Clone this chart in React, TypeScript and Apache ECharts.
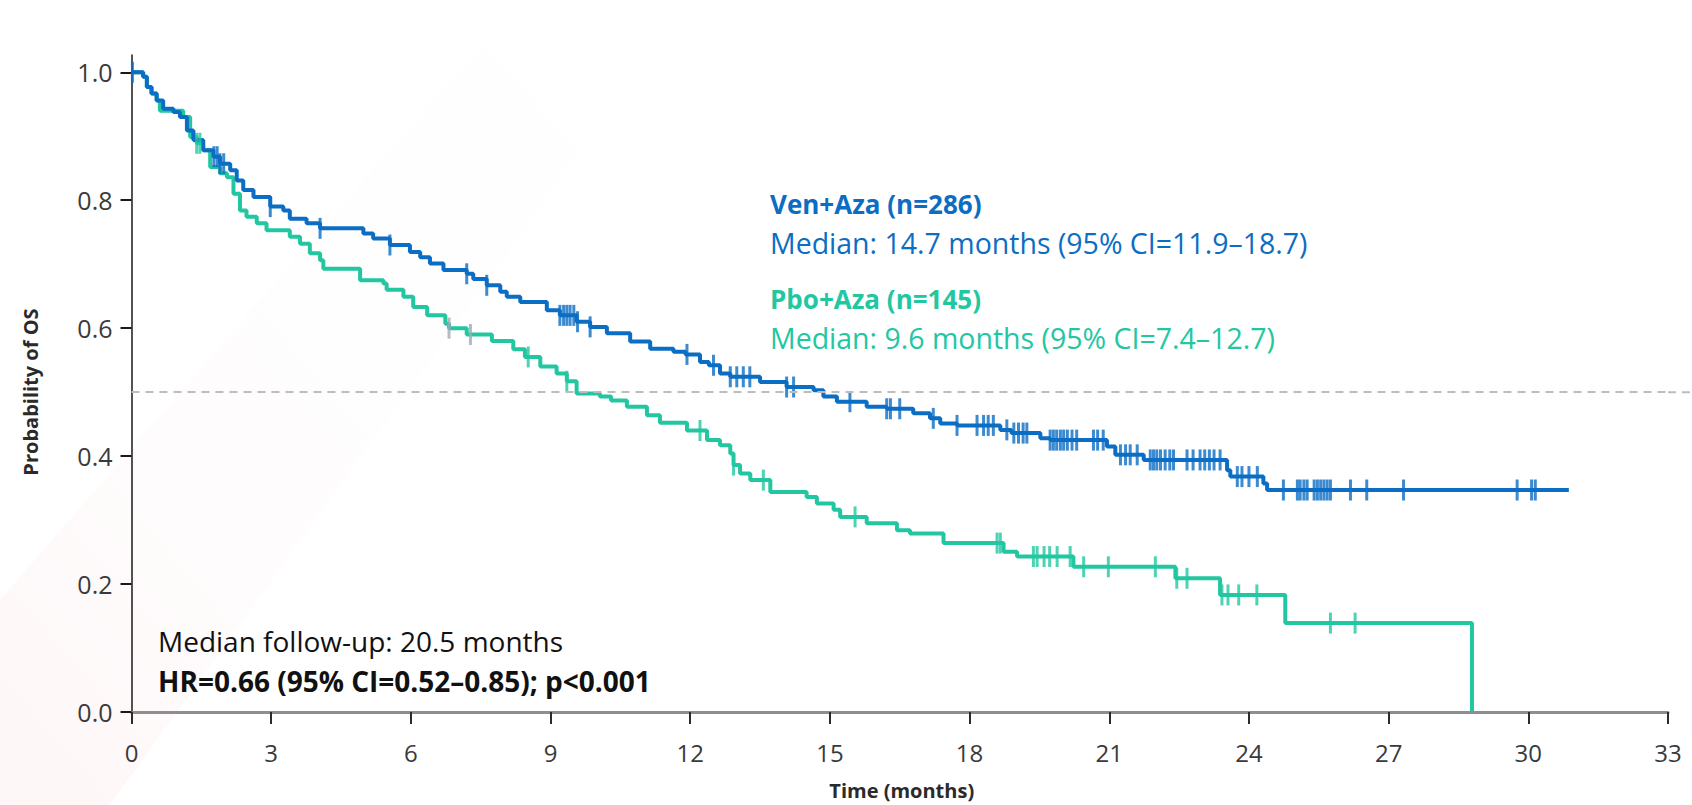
import React, { useEffect, useRef } from "react";
import * as echarts from "echarts";

// ---- Data ----
const xTicks = [0, 3, 6, 9, 12, 15, 18, 21, 24, 27, 30, 33];
const yTicks = [0, 0.2, 0.4, 0.6, 0.8, 1.0];
const medianLine = 0.5;

// Kaplan–Meier steps: [time (months), survival probability]
const venAzaSteps: [number, number][] = [
  [0, 1.0], [0.25, 0.993], [0.33, 0.977], [0.43, 0.967], [0.54, 0.956], [0.68, 0.943],
  [0.9, 0.938], [1.04, 0.93], [1.19, 0.909], [1.33, 0.894], [1.54, 0.878], [1.76, 0.868],
  [1.9, 0.857], [2.12, 0.847], [2.26, 0.831], [2.4, 0.816], [2.62, 0.805], [2.98, 0.79],
  [3.26, 0.784], [3.4, 0.771], [3.76, 0.764], [4.05, 0.756], [4.98, 0.748], [5.19, 0.74],
  [5.55, 0.73], [5.98, 0.719], [6.2, 0.711], [6.41, 0.701], [6.7, 0.691], [7.2, 0.685],
  [7.34, 0.677], [7.63, 0.667], [7.92, 0.657], [8.06, 0.649], [8.35, 0.641], [8.92, 0.628],
  [9.2, 0.62], [9.56, 0.61], [9.85, 0.602], [10.21, 0.592], [10.71, 0.579], [11.14, 0.568],
  [11.64, 0.563], [11.9, 0.559], [12.21, 0.547], [12.4, 0.542], [12.64, 0.529], [12.86, 0.524],
  [13.5, 0.516], [14.07, 0.508], [14.65, 0.503], [14.86, 0.493], [15.15, 0.485], [15.79, 0.477],
  [16.22, 0.474], [16.79, 0.467], [17.15, 0.459], [17.37, 0.451], [17.73, 0.448], [18.66, 0.441],
  [18.9, 0.436], [19.52, 0.428], [19.73, 0.425], [20.95, 0.415], [21.13, 0.402], [21.74, 0.394],
  [23.53, 0.378], [23.6, 0.368], [24.31, 0.357], [24.39, 0.347], [30.87, 0.347],
];

const pboAzaSteps: [number, number][] = [
  [0, 1.0], [0.25, 0.993], [0.33, 0.977], [0.43, 0.967], [0.54, 0.956], [0.61, 0.94],
  [1.11, 0.93], [1.26, 0.899], [1.4, 0.889], [1.54, 0.878], [1.69, 0.852], [1.9, 0.842],
  [2.05, 0.836], [2.19, 0.81], [2.33, 0.784], [2.47, 0.774], [2.69, 0.764], [2.9, 0.753],
  [3.4, 0.743], [3.62, 0.732], [3.83, 0.717], [4.05, 0.706], [4.12, 0.693], [4.91, 0.675],
  [5.41, 0.67], [5.48, 0.66], [5.84, 0.649], [6.05, 0.633], [6.35, 0.62], [6.74, 0.607],
  [6.82, 0.6], [7.2, 0.59], [7.74, 0.58], [8.2, 0.567], [8.45, 0.555], [8.78, 0.54],
  [9.13, 0.529], [9.35, 0.517], [9.56, 0.498], [10.06, 0.493], [10.3, 0.487], [10.64, 0.477],
  [11.07, 0.464], [11.35, 0.452], [11.93, 0.44], [12.36, 0.425], [12.64, 0.417], [12.86, 0.404],
  [12.93, 0.386], [13.07, 0.373], [13.29, 0.3625], [13.72, 0.344], [14.5, 0.336], [14.72, 0.326],
  [15.08, 0.316], [15.22, 0.305], [15.79, 0.295], [16.44, 0.284], [16.72, 0.279], [17.44, 0.264],
  [18.73, 0.2505], [19.02, 0.243], [20.23, 0.227], [22.42, 0.209], [23.38, 0.183], [24.78, 0.139],
  [28.79, 0.0],
];

// Censoring times (months)
const venAzaCensor = [
  0.02, 1.77, 1.84, 1.9, 1.98, 2.98, 4.05, 5.55, 7.2, 7.63,
  9.2, 9.28, 9.35, 9.42, 9.5, 9.58, 9.85, 11.93, 12.5, 12.86, 13.0, 13.14, 13.28,
  14.07, 14.22, 15.43, 16.22, 16.3, 16.5, 17.22, 17.73, 18.16, 18.3, 18.4, 18.51,
  18.8, 18.95, 19.05, 19.15, 19.23, 19.73, 19.8, 19.87, 19.95, 20.02, 20.1, 20.2, 20.3,
  20.66, 20.75, 20.87, 21.24, 21.35, 21.45, 21.6, 21.88, 21.95, 22.02, 22.1, 22.2, 22.3, 22.38,
  22.67, 22.8, 22.95, 23.05, 23.15, 23.25, 23.38, 23.75, 23.85, 24.0, 24.18, 24.74,
  25.04, 25.1, 25.18, 25.25, 25.4, 25.47, 25.54, 25.61, 25.68, 25.75, 26.18, 26.53,
  27.32, 29.76, 30.07, 30.15,
];
const pboAzaCensor = [
  1.4, 1.47, 8.52, 9.35, 12.21, 12.93, 13.57, 15.54, 18.59, 18.66,
  19.37, 19.45, 19.6, 19.72, 19.88, 20.16, 20.45, 20.98, 21.99, 22.45, 22.67,
  23.42, 23.55, 23.78, 24.17, 25.75, 26.28,
];
const pboAzaCensorGray = [6.82, 7.28];

const BLUE = "#0B6DC3";
const GREEN = "#22C7A1";
const GRAY_TICK = "#A3A9B8";
const FONT = "'Open Sans', 'Noto Sans', sans-serif";

function survAt(steps: [number, number][], t: number): number {
  let v = steps[0][1];
  for (const [tt, p] of steps) {
    if (tt <= t) v = p;
    else break;
  }
  return v;
}

function censorPoints(steps: [number, number][], times: number[]) {
  return times.map((t) => [t, survAt(steps, t)]);
}

export default function App() {
  const ref = useRef<HTMLDivElement>(null);

  useEffect(() => {
    if (!ref.current) return;
    const chart = echarts.init(ref.current, undefined, { renderer: "svg" });

    const censorSeries = (name: string, data: number[][], color: string) => ({
      name,
      type: "scatter",
      data,
      symbol: "rect",
      symbolSize: [3, 21],
      itemStyle: { color },
      silent: true,
      z: 4,
    });

    const textEl = (
      x: number,
      y: number,
      text: string,
      size: number,
      color: string,
      bold: boolean
    ) => ({
      type: "text",
      x,
      y,
      z: 10,
      style: {
        text,
        fontFamily: FONT,
        fontSize: size,
        fontWeight: bold ? "bold" : "normal",
        fill: color,
        align: "left",
        verticalAlign: "middle",
      },
    });

    chart.setOption({
      animation: false,
      backgroundColor: "#ffffff",
      textStyle: { fontFamily: FONT },
      grid: {
        left: 131.5,
        right: 24,
        top: 55,
        bottom: 93,
        containLabel: false,
        outerBoundsMode: "none",
      },
      xAxis: {
        type: "value",
        min: 0,
        max: 33,
        interval: 3,
        axisLine: { show: true, lineStyle: { color: "#8E8E8E", width: 3 } },
        axisTick: { show: true, length: 12, lineStyle: { color: "#2b2b2b", width: 2 } },
        axisLabel: {
          margin: 28,
          color: "#3a3a3a",
          fontSize: 24,
          fontFamily: FONT,
          formatter: (v: number) => (xTicks.includes(v) ? String(v) : ""),
        },
        splitLine: { show: false },
      },
      yAxis: {
        type: "value",
        min: 0,
        max: 1.027,
        axisLine: { show: true, lineStyle: { color: "#1a1a1a", width: 1.5 } },
        axisTick: {
          show: true,
          length: 11,
          customValues: yTicks,
          lineStyle: { color: "#1a1a1a", width: 2 },
        },
        axisLabel: {
          margin: 19,
          color: "#3a3a3a",
          fontSize: 25,
          fontFamily: FONT,
          customValues: yTicks,
          formatter: (v: number) => v.toFixed(1),
        },
        splitLine: { show: false },
      },
      series: [
        {
          name: "Pbo+Aza",
          type: "line",
          step: "end",
          data: pboAzaSteps,
          showSymbol: false,
          symbol: "none",
          lineStyle: { color: GREEN, width: 4 },
          z: 2,
          markLine: {
            silent: true,
            symbol: "none",
            label: { show: false },
            lineStyle: { color: "#BDBDBD", width: 2, type: [8, 6] },
            data: [{ yAxis: medianLine }],
          },
        },
        {
          name: "Ven+Aza",
          type: "line",
          step: "end",
          data: venAzaSteps,
          showSymbol: false,
          symbol: "none",
          lineStyle: { color: BLUE, width: 4 },
          z: 3,
        },
        censorSeries("Pbo+Aza censored", censorPoints(pboAzaSteps, pboAzaCensor), GREEN),
        censorSeries("Pbo+Aza censored (grey)", censorPoints(pboAzaSteps, pboAzaCensorGray), GRAY_TICK),
        censorSeries("Ven+Aza censored", censorPoints(venAzaSteps, venAzaCensor), BLUE),
      ],
    });

    // positions derived from the axes
    const pEnd = chart.convertToPixel({ gridIndex: 0 }, [33, medianLine]) as number[];
    const pMid = chart.convertToPixel({ gridIndex: 0 }, [16.5, medianLine]) as number[];
    const pTop = chart.convertToPixel({ gridIndex: 0 }, [0, 0]) as number[];

    chart.setOption({
      graphic: [
        {
          type: "polygon",
          z: -10,
          silent: true,
          shape: {
            points: [
              [0, 805],
              [110, 805],
              [690, 0],
              [520, 0],
              [0, 600],
            ],
          },
          style: {
            fill: new echarts.graphic.LinearGradient(0, 1, 1, 0, [
              { offset: 0, color: "rgba(236,120,135,0.07)" },
              { offset: 0.3, color: "rgba(236,150,160,0.03)" },
              { offset: 1, color: "rgba(220,200,205,0.0)" },
            ]),
          },
        },
        {
          type: "line",
          silent: true,
          shape: { x1: pEnd[0], y1: pEnd[1], x2: pEnd[0] + 22, y2: pEnd[1] },
          style: { stroke: "#BDBDBD", lineWidth: 2, lineDash: [8, 6] },
        },
        {
          type: "text",
          x: 30,
          y: 392,
          rotation: Math.PI / 2,
          style: {
            text: "Probability of OS",
            fontFamily: FONT,
            fontSize: 20,
            fontWeight: "bold",
            fill: "#2a2a2a",
            align: "center",
            verticalAlign: "middle",
          },
        },
        {
          type: "text",
          x: pMid[0] + 2,
          y: pTop[1] + 78,
          style: {
            text: "Time (months)",
            fontFamily: FONT,
            fontSize: 20,
            fontWeight: "bold",
            fill: "#2a2a2a",
            align: "center",
            verticalAlign: "middle",
          },
        },
        textEl(770, 204, "Ven+Aza (n=286)", 26, BLUE, true),
        textEl(770, 243, "Median: 14.7 months (95% CI=11.9–18.7)", 28.5, BLUE, false),
        textEl(770, 299, "Pbo+Aza (n=145)", 26, GREEN, true),
        textEl(770, 338, "Median: 9.6 months (95% CI=7.4–12.7)", 28.5, GREEN, false),
        textEl(158, 641, "Median follow-up: 20.5 months", 28, "#111111", false),
        textEl(158, 681, "HR=0.66 (95% CI=0.52–0.85); p<0.001", 28, "#111111", true),
      ],
    });

    return () => {
      chart.dispose();
    };
  }, []);

  return (
    <div
      ref={ref}
      style={{ position: "absolute", left: 0, top: 0, width: 1692, height: 805 }}
    />
  );
}
